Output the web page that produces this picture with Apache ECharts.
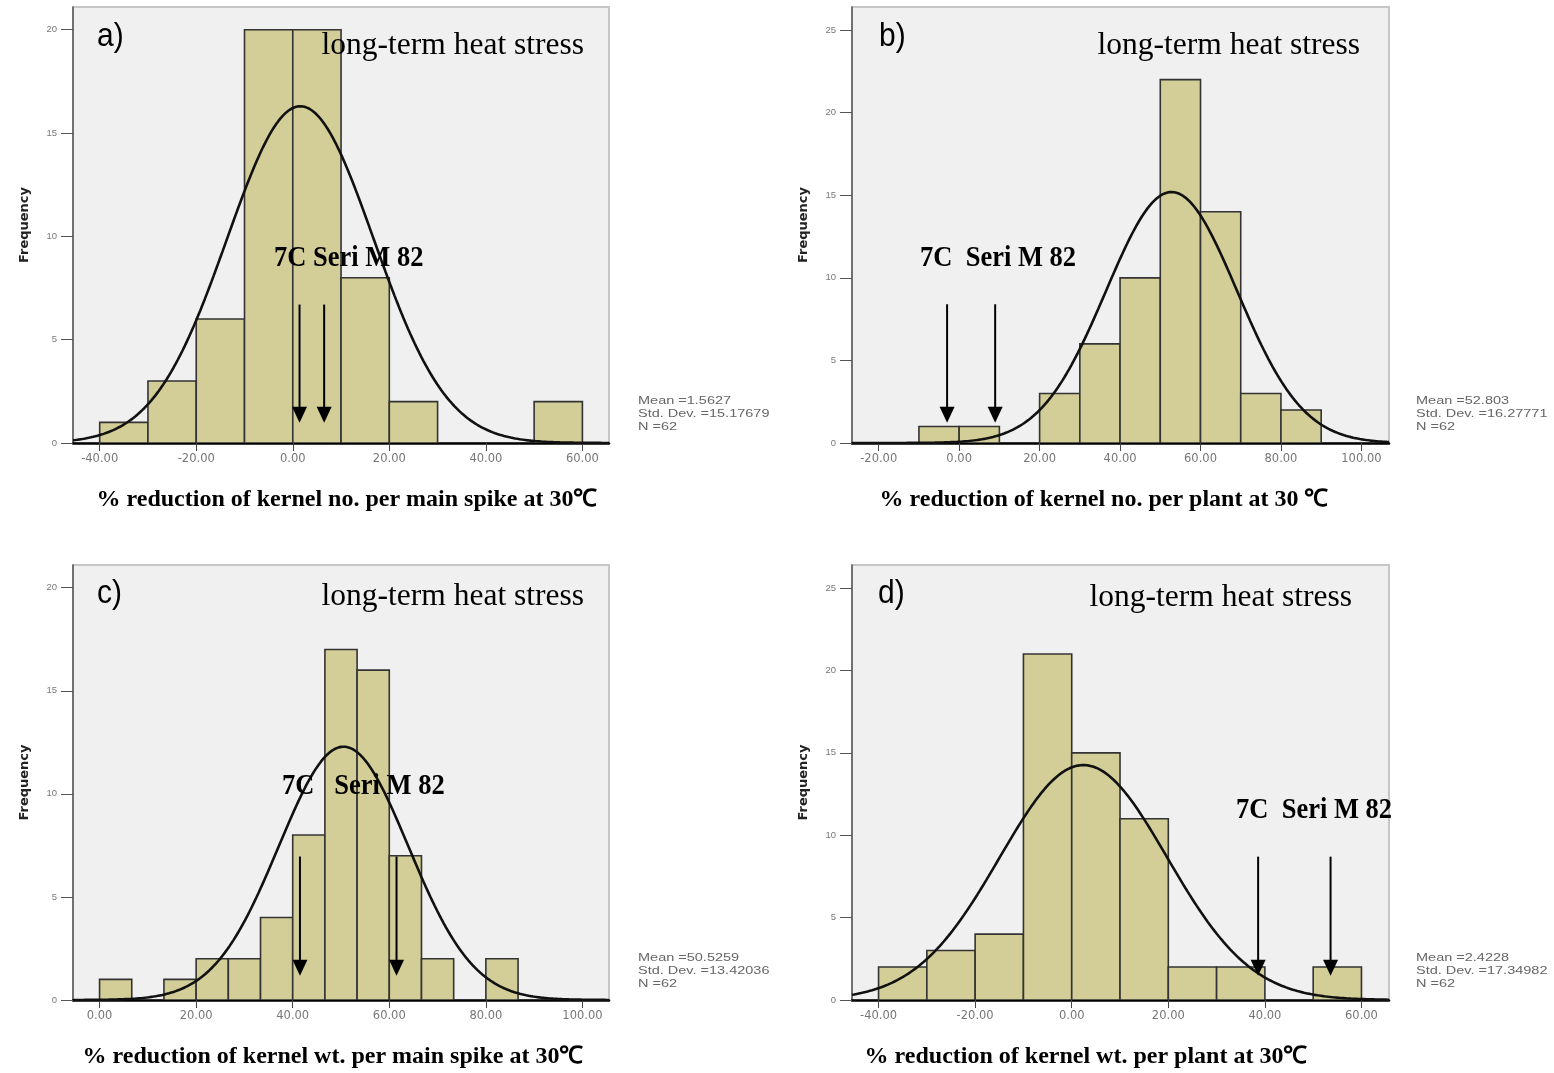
<!DOCTYPE html>
<html>
<head>
<meta charset="utf-8">
<script src="https://cdn.jsdelivr.net/npm/echarts@6/dist/echarts.min.js"></script>
<style>
html,body{margin:0;padding:0;background:#fff;}
#chart{width:1554px;height:1073px;}
</style>
</head>
<body>
<div id="chart"></div>
<script>
// ---------- DATA ----------
const panelLabels = ['a)', 'b)', 'c)', 'd)'];
const heatLabel = 'long-term heat stress';
const markerLabels = ['7C Seri M 82', '7C  Seri M 82', '7C   Seri M 82', '7C  Seri M 82'];
const xTitles = [
  '% reduction of kernel no. per main spike at 30\u2103',
  '% reduction of kernel no. per plant at 30 \u2103',
  '% reduction of kernel wt. per main spike at 30\u2103',
  '% reduction of kernel wt. per plant at 30\u2103'
];

// bin edges and counts
const aEdges = [-40, -30, -20, -10, 0, 10, 20, 30, 40, 50, 60];
const aCounts = [1, 3, 6, 20, 20, 8, 2, 0, 0, 2];
const bEdges = [-10, 0, 10, 20, 30, 40, 50, 60, 70, 80, 90];
const bCounts = [1, 1, 0, 3, 6, 10, 22, 14, 3, 2];
const cEdges = [0, 6.667, 13.333, 20, 26.667, 33.333, 40, 46.667, 53.333, 60, 66.667, 73.333, 80, 86.667];
const cCounts = [1, 0, 1, 2, 2, 4, 8, 17, 16, 7, 2, 0, 2];
const dEdges = [-40, -30, -20, -10, 0, 10, 20, 30, 40, 50, 60];
const dCounts = [2, 3, 4, 21, 15, 11, 2, 2, 0, 2];

// fitted normal curve parameters (as printed)
const means = [1.5627, 52.803, 50.5259, 2.4228];
const stdDevs = [15.17679, 16.27771, 13.42036, 17.34982];
const nValues = [62, 62, 62, 62];
const meanText = ['1.5627', '52.803', '50.5259', '2.4228'];
const sdText = ['15.17679', '16.27771', '13.42036', '17.34982'];

// arrows: [x, yStart, yTip]
const aArrows = [[1.4, 6.7, 0.98], [6.5, 6.7, 0.98]];
const bArrows = [[-3.0, 8.4, 1.23], [8.95, 8.4, 1.23]];
const cArrows = [[41.5, 6.96, 1.18], [61.5, 6.96, 1.18]];
const dArrows = [[38.6, 8.7, 1.47], [53.6, 8.7, 1.47]];

// ticks
const aXTicks = [-40, -20, 0, 20, 40, 60];
const bXTicks = [-20, 0, 20, 40, 60, 80, 100];
const cXTicks = [0, 20, 40, 60, 80, 100];
const dXTicks = [-40, -20, 0, 20, 40, 60];
const aYTicks = [0, 5, 10, 15, 20];
const bYTicks = [0, 5, 10, 15, 20, 25];
const cYTicks = [0, 5, 10, 15, 20];
const dYTicks = [0, 5, 10, 15, 20, 25];

// ---------- LAYOUT ----------
const panels = [
  {edges: aEdges, counts: aCounts, arrows: aArrows, xTicks: aXTicks, yTicks: aYTicks,
   grid: {left: 73, top: 7, width: 536, height: 436}, xr: [-45.53, 65.51], yr: [0, 21.1],
   text: {lab: [97, 37], heat: [584, 46], mark: [274, 258], title: [347, 500], stats: [638, 401]}},
  {edges: bEdges, counts: bCounts, arrows: bArrows, xTicks: bXTicks, yTicks: bYTicks,
   grid: {left: 852, top: 7, width: 537, height: 436}, xr: [-26.64, 106.86], yr: [0, 26.4],
   text: {lab: [879, 37], heat: [1360, 46], mark: [920, 258], title: [1104, 500], stats: [1416, 401]}},
  {edges: cEdges, counts: cCounts, arrows: cArrows, xTicks: cXTicks, yTicks: cYTicks,
   grid: {left: 73, top: 565, width: 536, height: 435}, xr: [-5.5, 105.5], yr: [0, 21.1],
   text: {lab: [97, 594], heat: [584, 597], mark: [282, 786], title: [333, 1057], stats: [638, 958]}},
  {edges: dEdges, counts: dCounts, arrows: dArrows, xTicks: dXTicks, yTicks: dYTicks,
   grid: {left: 852, top: 565, width: 537, height: 435}, xr: [-45.5, 65.7], yr: [0, 26.4],
   text: {lab: [878, 594], heat: [1352, 598], mark: [1236, 810], title: [1086, 1057], stats: [1416, 958]}}
];

const BAR_FILL = '#d3ce97';
const grids = [], xAxes = [], yAxes = [], series = [], graphics = [];

panels.forEach((p, i) => {
  grids.push(Object.assign({show: true, backgroundColor: '#f0f0f0', borderColor: '#c6c6c6', borderWidth: 2}, p.grid));
  xAxes.push({
    type: 'value', gridIndex: i, min: p.xr[0], max: p.xr[1],
    splitLine: {show: false},
    axisLine: {show: true, onZero: false, lineStyle: {color: '#000', width: 2.5}},
    axisTick: {show: true, length: 8, customValues: p.xTicks, lineStyle: {color: '#444', width: 1}},
    axisLabel: {show: true, customValues: p.xTicks, margin: 10, fontSize: 11.5, color: '#777',
      fontFamily: '"DejaVu Sans", sans-serif', formatter: v => v.toFixed(2)}
  });
  yAxes.push({
    type: 'value', gridIndex: i, min: p.yr[0], max: p.yr[1],
    name: 'Frequency', nameLocation: 'middle', nameGap: 42,
    nameTextStyle: {fontSize: 13, fontWeight: 'bold', color: '#222', fontFamily: '"DejaVu Sans", sans-serif'},
    splitLine: {show: false},
    axisLine: {show: true, onZero: false, lineStyle: {color: '#555', width: 1.5}},
    axisTick: {show: true, length: 12, customValues: p.yTicks, lineStyle: {color: '#555', width: 1}},
    axisLabel: {show: true, customValues: p.yTicks, margin: 16, fontSize: 9.5, color: '#777',
      fontFamily: '"Liberation Sans", Arial, sans-serif'}
  });

  // histogram bars
  const barData = [];
  for (let k = 0; k < p.counts.length; k++) {
    barData.push([p.edges[k], p.edges[k + 1], p.counts[k]]);
  }
  series.push({
    type: 'custom', xAxisIndex: i, yAxisIndex: i, data: barData, clip: true, z: 2,
    encode: {x: [0, 1], y: 2},
    renderItem: (params, api) => {
      const h = api.value(2);
      if (!h) return null;
      const p0 = api.coord([api.value(0), 0]);
      const p1 = api.coord([api.value(1), h]);
      return {type: 'rect', shape: {x: p0[0], y: p1[1], width: p1[0] - p0[0], height: p0[1] - p1[1]},
        style: {fill: BAR_FILL, stroke: '#333', lineWidth: 1.6}};
    }
  });

  // normal curve from printed mean / sd / N
  const binW = p.edges[1] - p.edges[0];
  const mu = means[i], sd = stdDevs[i], n = nValues[i];
  const curve = [];
  const steps = 240;
  for (let s = 0; s <= steps; s++) {
    const x = p.xr[0] + (p.xr[1] - p.xr[0]) * s / steps;
    const y = n * binW / (sd * Math.sqrt(2 * Math.PI)) * Math.exp(-0.5 * Math.pow((x - mu) / sd, 2));
    curve.push([x, y]);
  }
  series.push({
    type: 'line', xAxisIndex: i, yAxisIndex: i, data: curve, showSymbol: false, symbol: 'none',
    lineStyle: {color: '#111', width: 2.6}, z: 3, clip: true, silent: true
  });

  // arrows
  series.push({
    type: 'custom', xAxisIndex: i, yAxisIndex: i, data: p.arrows, z: 4, clip: false,
    encode: {x: 0, y: [1, 2]},
    renderItem: (params, api) => {
      const a = api.coord([api.value(0), api.value(1)]);
      const b = api.coord([api.value(0), api.value(2)]);
      const headH = 16, headW = 7.5;
      return {type: 'group', children: [
        {type: 'line', shape: {x1: a[0], y1: a[1], x2: b[0], y2: b[1] - headH + 2},
          style: {stroke: '#000', lineWidth: 2}},
        {type: 'polygon', shape: {points: [[b[0], b[1]], [b[0] - headW, b[1] - headH], [b[0] + headW, b[1] - headH]]},
          style: {fill: '#000'}}
      ]};
    }
  });

  // texts
  const t = p.text;
  graphics.push({type: 'text', x: t.lab[0], y: t.lab[1], scaleY: 1.08, style: {text: panelLabels[i], font: '30px "Liberation Sans", Arial, sans-serif',
    fill: '#000', textAlign: 'left', textVerticalAlign: 'middle'}, z: 10});
  graphics.push({type: 'text', x: t.heat[0], y: t.heat[1], style: {text: heatLabel, font: '31.5px "Liberation Serif", "Times New Roman", serif',
    fill: '#000', textAlign: 'right', textVerticalAlign: 'middle'}, z: 10});
  graphics.push({type: 'text', x: t.mark[0], y: t.mark[1], scaleY: 1.1, style: {text: markerLabels[i], font: 'bold 26.5px "Liberation Serif", "Times New Roman", serif',
    fill: '#000', textAlign: 'left', textVerticalAlign: 'middle'}, z: 10});
  graphics.push({type: 'text', x: t.title[0], y: t.title[1], style: {text: xTitles[i], font: 'bold 24px "Liberation Serif", "Times New Roman", serif',
    fill: '#000', textAlign: 'center', textVerticalAlign: 'middle'}, z: 10});
  const statLines = ['Mean =' + meanText[i], 'Std. Dev. =' + sdText[i], 'N =' + nValues[i]];
  statLines.forEach((s, k) => {
    graphics.push({type: 'text', x: t.stats[0], y: t.stats[1] + k * 13, scaleX: 1.38, style: {text: s, font: '10.5px "Liberation Sans", Arial, sans-serif',
      fill: '#666', textAlign: 'left', textVerticalAlign: 'middle'}, z: 10});
  });
});

const chart = echarts.init(document.getElementById('chart'), null, {renderer: 'canvas', width: 1554, height: 1073});
chart.setOption({
  backgroundColor: '#ffffff',
  animation: false,
  grid: grids,
  xAxis: xAxes,
  yAxis: yAxes,
  series: series,
  graphic: graphics
});
</script>
</body>
</html>
